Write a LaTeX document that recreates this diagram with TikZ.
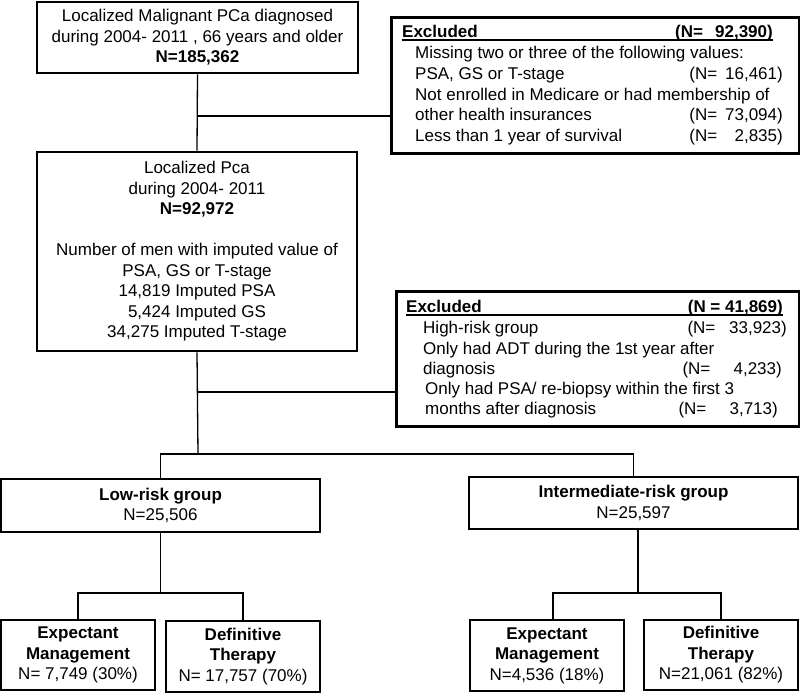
\documentclass[tikz,border=0pt]{standalone}
\usepackage{fontspec}
\setmainfont{Liberation Sans}
\newcommand\myfsz{\fontsize{17}{20.5}\selectfont}
\newcommand\ncount[2]{(N=\makebox[#1][r]{#2)}}
\begin{document}
\begin{tikzpicture}[x=1pt,y=-1pt,
  mainbox/.style={draw, line width=2.6pt, rectangle, align=center, inner sep=0pt, font=\myfsz},
  subbox/.style={draw, line width=2pt, rectangle, align=center, inner sep=0pt, font=\myfsz},
  exbox/.style={draw, line width=2.6pt, rectangle, inner sep=0pt, anchor=north west},
  ltxt/.style={anchor=base west, inner sep=0pt, font=\myfsz},
  rtxt/.style={anchor=base east, inner sep=0pt, font=\myfsz},
  conn/.style={line width=1.3pt},
  uline/.style={line width=1.2pt}]
\useasboundingbox (0,0) rectangle (800,694);

% main boxes
\node[mainbox, minimum width=321pt, minimum height=71pt] (b1) at (197.5,37.5)
  {Localized Malignant PCa diagnosed\\during 2004- 2011 , 66 years and older\\\textbf{N=185,362}};
\node[mainbox, minimum width=320pt, minimum height=199pt] (b2) at (197,251.5)
  {Localized Pca\\during 2004- 2011\\\textbf{N=92,972}\\[20.5pt]Number of men with imputed value of\\PSA, GS or T-stage\\14,819 Imputed PSA\\5,424 Imputed GS\\34,275 Imputed T-stage};
\node[mainbox, minimum width=319pt, minimum height=53pt] (low) at (160.5,505.5)
  {\textbf{Low-risk group}\\N=25,506};
\node[mainbox, minimum width=329pt, minimum height=52pt] (inter) at (633.5,503)
  {\textbf{Intermediate-risk group}\\N=25,597};
\node[subbox, minimum width=154pt, minimum height=70pt] (em1) at (78,655)
  {\textbf{Expectant}\\\textbf{Management}\\N= 7,749 (30\%)};
\node[subbox, minimum width=154pt, minimum height=71pt] (dt1) at (243,656.5)
  {\textbf{Definitive}\\\textbf{Therapy}\\N= 17,757 (70\%)};
\node[subbox, minimum width=154pt, minimum height=71pt] (em2) at (547,655.5)
  {\textbf{Expectant}\\\textbf{Management}\\N=4,536 (18\%)};
\node[subbox, minimum width=154pt, minimum height=70pt] (dt2) at (721,655)
  {\textbf{Definitive}\\\textbf{Therapy}\\N=21,061 (82\%)};

% excluded box 1
\node[exbox, minimum width=408pt, minimum height=136pt] (ex1) at (390,16) {};
\node[ltxt] (ex1h) at (402,37) {\textbf{Excluded}};
\node[rtxt] (ex1n) at (773,37) {\textbf{\ncount{4.1em}{92,390}}};
\node[ltxt] (ex1a) at (415,58) {Missing two or three of the following values:};
\node[ltxt] (ex1b) at (415,79) {PSA, GS or T-stage};
\node[rtxt] (ex1bn) at (783,79) {\ncount{3.85em}{16,461}};
\node[ltxt] (ex1c) at (415,100) {Not enrolled in Medicare or had membership of};
\node[ltxt] (ex1d) at (415,120) {other health insurances};
\node[rtxt] (ex1dn) at (783,120) {\ncount{3.85em}{73,094}};
\node[ltxt] (ex1e) at (415,141) {Less than 1 year of survival};
\node[rtxt] (ex1en) at (783,141) {\ncount{3.85em}{2,835}};
\draw[uline] ([yshift=-3pt]ex1h.base west) -- ([yshift=-3pt]ex1n.base east);

% excluded box 2
\node[exbox, minimum width=403pt, minimum height=135pt] (ex2) at (395,290) {};
\node[ltxt] (ex2h) at (406,312) {\textbf{Excluded}};
\node[rtxt] (ex2n) at (783,312) {\textbf{(N = 41,869)}};
\node[ltxt] (ex2a) at (423,333) {High-risk group};
\node[rtxt] (ex2an) at (787,333) {\ncount{4.2em}{33,923}};
\node[ltxt] (ex2b) at (423,354) {Only had ADT during the 1st year after};
\node[ltxt] (ex2c) at (423,374) {diagnosis};
\node[rtxt] (ex2cn) at (782,374) {\ncount{4.2em}{4,233}};
\node[ltxt] (ex2d) at (425,394) {Only had PSA/ re-biopsy within the first 3};
\node[ltxt] (ex2e) at (425,414) {months after diagnosis};
\node[rtxt] (ex2en) at (778,414) {\ncount{4.2em}{3,713}};
\draw[uline] ([yshift=-3pt]ex2h.base west) -- ([yshift=-3pt]ex2n.base east);

% connectors
\coordinate (j1) at (198,116);
\coordinate (j2) at (198,392);
\coordinate (j3) at (198,454);
\coordinate (j4) at (160.5,593);
\coordinate (j5) at (638,593);
\coordinate (j5l) at (553,593);
\draw[conn] (b1.south) -- (b2.north);
\draw[conn] (j1) -- (j1 -| ex1.west);
\draw[conn] (b2.south) -- (j3);
\draw[conn] (j2) -- (j2 -| ex2.west);
\draw[conn] (low.north) -- (low.north |- j3) -- (inter.north |- j3) -- (inter.north);
\draw[conn] (low.south) -- (j4);
\draw[conn] (em1.north) -- (em1.north |- j4) -- (dt1.north |- j4) -- (dt1.north);
\draw[conn] (j5 |- inter.south) -- (j5);
\draw[conn] (j5l |- em2.north) -- (j5l) -- (dt2.north |- j5) -- (dt2.north);
\end{tikzpicture}
\end{document}
